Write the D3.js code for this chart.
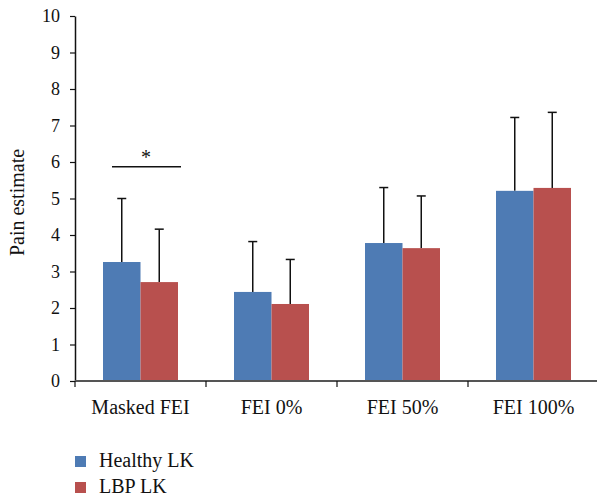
<!DOCTYPE html>
<html>
<head>
<meta charset="utf-8">
<script src="https://cdn.jsdelivr.net/npm/d3@7"></script>
<style>
  body { margin: 0; background: #fff; }
  text { font-family: "Liberation Serif", "DejaVu Serif", serif; fill: #111; }
</style>
</head>
<body>
<svg id="chart" width="597" height="498"></svg>
<script>
// data
const categories = ["Masked FEI", "FEI 0%", "FEI 50%", "FEI 100%"];
const seriesNames = ["Healthy LK", "LBP LK"];
const healthyMeans = [3.26, 2.44, 3.78, 5.21];
const healthyErr = [1.74, 1.38, 1.52, 2.01];
const lbpMeans = [2.71, 2.11, 3.64, 5.29];
const lbpErr = [1.45, 1.22, 1.43, 2.07];
const yTicks = [0, 1, 2, 3, 4, 5, 6, 7, 8, 9, 10];
const colors = ["#4e7bb4", "#b8504e"];

const width = 597, height = 498;
const plotLeft = 75, plotRight = 599, plotTop = 16, plotBottom = 381;

const svg = d3.select("#chart");

const x0 = d3.scaleBand().domain(categories).range([plotLeft, plotRight]).padding(0);
const x1 = d3.scaleBand().domain(seriesNames).range([0, x0.bandwidth()])
    .paddingInner(0).paddingOuter(0.747);
const y = d3.scaleLinear().domain([0, 10]).range([plotBottom, plotTop]);

const rows = categories.map((c, i) => ({
    cat: c,
    vals: [
        { s: seriesNames[0], v: healthyMeans[i], e: healthyErr[i] },
        { s: seriesNames[1], v: lbpMeans[i], e: lbpErr[i] }
    ]
}));

// error bars (upper only), drawn under bars
const groups = svg.selectAll("g.cat")
    .data(rows)
    .enter().append("g")
    .attr("class", "cat")
    .attr("transform", d => `translate(${x0(d.cat)},0)`);

groups.selectAll("g.err")
    .data(d => d.vals)
    .enter().append("g")
    .attr("class", "err")
    .each(function (d) {
        const g = d3.select(this);
        const cx = x1(d.s) + x1.bandwidth() / 2;
        g.append("line")
            .attr("x1", cx).attr("x2", cx)
            .attr("y1", y(d.v)).attr("y2", y(d.v + d.e))
            .attr("stroke", "#111").attr("stroke-width", 1.5);
        g.append("line")
            .attr("x1", cx - 4.5).attr("x2", cx + 4.5)
            .attr("y1", y(d.v + d.e)).attr("y2", y(d.v + d.e))
            .attr("stroke", "#111").attr("stroke-width", 1.5);
    });

groups.selectAll("rect")
    .data(d => d.vals)
    .enter().append("rect")
    .attr("x", d => x1(d.s))
    .attr("width", x1.bandwidth())
    .attr("y", d => y(d.v))
    .attr("height", d => y(0) - y(d.v))
    .attr("fill", (d, i) => colors[i]);

// y axis
const yAxis = svg.append("g")
    .attr("transform", `translate(${plotLeft},0)`)
    .call(d3.axisLeft(y).tickValues(yTicks).tickSize(5).tickSizeOuter(0).tickPadding(10));
yAxis.attr("font-family", null);
yAxis.select(".domain").attr("stroke", "#111").attr("stroke-width", 1.5);
yAxis.selectAll(".tick line").attr("stroke", "#111").attr("stroke-width", 1.2);
yAxis.selectAll(".tick text").attr("font-size", 18).attr("fill", "#111");

// x axis
const xAxis = svg.append("g")
    .attr("transform", `translate(0,${plotBottom})`)
    .call(d3.axisBottom(x0).tickSize(0).tickPadding(19));
xAxis.attr("font-family", null);
xAxis.select(".domain").remove();
xAxis.append("line")
    .attr("x1", plotLeft).attr("x2", width)
    .attr("y1", 0).attr("y2", 0)
    .attr("stroke", "#555").attr("stroke-width", 2);
xAxis.selectAll(".tick text").attr("font-size", 20).attr("fill", "#111");
// boundary ticks between categories
xAxis.selectAll("line.sep")
    .data(categories)
    .enter().append("line")
    .attr("class", "sep")
    .attr("x1", d => x0(d)).attr("x2", d => x0(d))
    .attr("y1", 0).attr("y2", 6)
    .attr("stroke", "#111").attr("stroke-width", 1.2);

// y label
svg.append("text")
    .attr("transform", `translate(24,${(plotTop + plotBottom) / 2 + 4}) rotate(-90)`)
    .attr("text-anchor", "middle")
    .attr("font-size", 20)
    .text("Pain estimate");

// significance marker over Masked FEI
const sigLevel = 5.87;
svg.append("line")
    .attr("x1", x0(categories[0]) + 37).attr("x2", x0(categories[0]) + 106)
    .attr("y1", y(sigLevel)).attr("y2", y(sigLevel))
    .attr("stroke", "#111").attr("stroke-width", 1.5);
svg.append("text")
    .attr("x", x0(categories[0]) + 71)
    .attr("y", y(sigLevel) - 3)
    .attr("text-anchor", "middle")
    .attr("font-size", 20)
    .text("*");

// legend
const legend = svg.append("g").attr("transform", "translate(75,456)");
seriesNames.forEach((s, i) => {
    legend.append("rect")
        .attr("x", 0).attr("y", i * 26)
        .attr("width", 11).attr("height", 11)
        .attr("fill", colors[i]);
    legend.append("text")
        .attr("x", 24).attr("y", i * 26 + 11)
        .attr("font-size", 20)
        .text(s);
});
</script>
</body>
</html>
